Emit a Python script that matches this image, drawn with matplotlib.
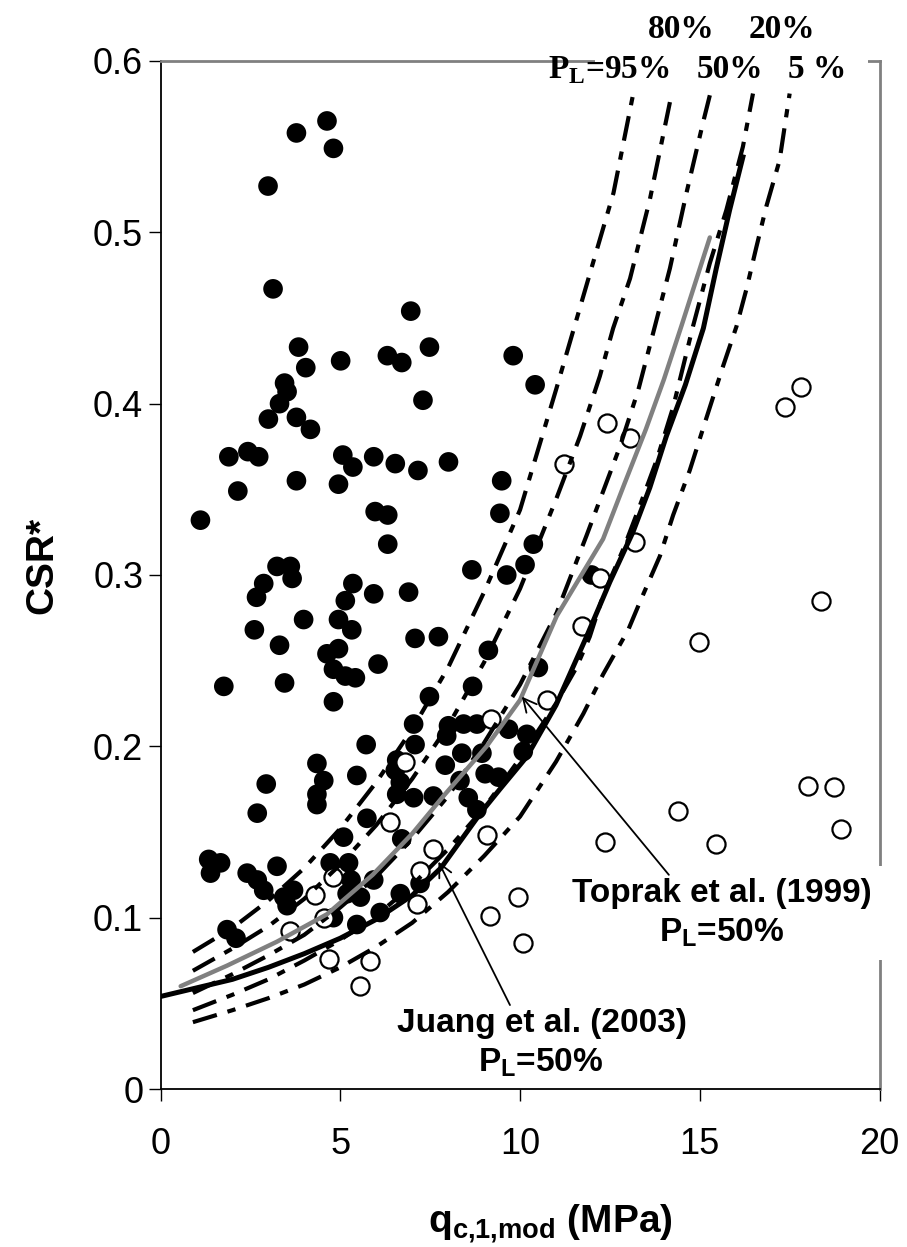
import matplotlib
matplotlib.use("Agg")
import matplotlib.pyplot as plt
from matplotlib.patches import Rectangle

plt.rcParams['font.family'] = ['Liberation Sans', 'DejaVu Sans']
plt.rcParams['lines.scale_dashes'] = False

# --- probability curves (this study), P_L = 95, 80, 50, 20, 5 % ---
pl95_x = [0.9, 2, 3, 4, 5, 6, 7, 8, 9, 10, 11, 12, 12.6, 13.15]
pl95_y = [0.080, 0.094, 0.110, 0.129, 0.152, 0.179, 0.210, 0.246, 0.290, 0.338, 0.408, 0.480, 0.523, 0.581]

pl80_x = [0.9, 2, 3, 4, 5, 6, 7, 8, 9, 10, 11, 11.67, 12.22, 12.59, 13.06, 13.61, 14.17]
pl80_y = [0.069, 0.082, 0.095, 0.111, 0.131, 0.154, 0.181, 0.212, 0.249, 0.292, 0.344, 0.381, 0.416, 0.444, 0.473, 0.519, 0.576]

pl50_x = [0.9, 2, 3, 4, 5, 6, 7, 8, 9, 10, 11.02, 11.85, 12.78, 13.29, 13.7, 14.17, 14.63, 15.09, 15.28]
pl50_y = [0.056, 0.067, 0.078, 0.090, 0.106, 0.124, 0.146, 0.171, 0.202, 0.236, 0.278, 0.323, 0.375, 0.408, 0.441, 0.479, 0.523, 0.564, 0.580]

pl20_x = [0.9, 2, 3, 4, 5, 6, 7, 8, 9, 10, 11, 11.57, 11.94, 12.31, 12.87, 13.29, 13.8, 14.26, 14.81, 15.28, 15.74, 16.2, 16.48]
pl20_y = [0.046, 0.055, 0.064, 0.075, 0.087, 0.101, 0.119, 0.140, 0.164, 0.193, 0.225, 0.246, 0.264, 0.288, 0.315, 0.338, 0.367, 0.398, 0.445, 0.482, 0.513, 0.550, 0.581]

pl05_x = [0.9, 2, 3, 4, 5, 6, 7, 8, 9, 10, 11, 11.76, 12.31, 13.01, 13.33, 13.89, 14.26, 14.72, 15.19, 15.65, 16.02, 16.3, 16.57, 16.85, 17.22, 17.5]
pl05_y = [0.039, 0.046, 0.053, 0.061, 0.071, 0.083, 0.097, 0.115, 0.136, 0.159, 0.191, 0.219, 0.242, 0.268, 0.284, 0.311, 0.335, 0.361, 0.392, 0.422, 0.445, 0.467, 0.491, 0.515, 0.542, 0.581]

# --- Juang et al. (2003), P_L = 50% ---
juang_x = [0, 1, 2, 3, 4, 5, 6, 7, 7.8, 8.9, 9.44, 10.19, 11.0, 11.85, 12.5, 13.14, 13.61, 14.07, 14.6, 15.1, 15.46, 15.83, 16.2]
juang_y = [0.054, 0.059, 0.064, 0.071, 0.079, 0.088, 0.099, 0.113, 0.129, 0.161, 0.175, 0.194, 0.224, 0.264, 0.296, 0.325, 0.351, 0.381, 0.411, 0.444, 0.479, 0.513, 0.544]

# --- Toprak et al. (1999), P_L = 50% ---
toprak_x = [0.56, 1.85, 3.24, 4.63, 5.9, 7.0, 7.87, 9.07, 10.0, 11.02, 12.31, 12.9, 13.5, 14.0, 14.5, 15.28]
toprak_y = [0.060, 0.072, 0.086, 0.102, 0.125, 0.149, 0.171, 0.200, 0.227, 0.276, 0.321, 0.353, 0.385, 0.414, 0.446, 0.497]

# --- case histories ---
liq_x = [4.63, 3.78, 4.81, 2.99, 3.13, 6.96, 3.84, 7.48, 5.01, 6.31, 6.71, 4.04, 3.45, 3.52, 3.31, 7.30,
         3.00, 3.78, 4.17, 1.90, 2.43, 2.73, 5.07, 5.93, 6.53, 8.01, 2.15, 3.78, 5.35, 4.95, 7.16, 1.11,
         5.97, 6.32, 6.32, 8.66, 3.24, 3.61, 3.66, 2.87, 2.67, 5.35, 5.14, 5.93, 6.90, 4.95, 3.98, 5.32,
         2.61, 3.31, 7.08, 7.73, 4.63, 4.95, 4.81, 5.14, 5.42, 6.05, 1.76, 3.45, 4.81, 8.68, 7.48, 7.04,
         7.08, 5.72, 4.35, 5.46, 2.94, 4.54, 4.35, 6.57, 7.92, 8.33, 7.59, 9.81, 10.42, 9.49, 9.44, 10.37,
         9.63, 10.14, 11.99, 9.12, 10.51, 8.01, 8.43, 8.80, 7.96, 9.68, 10.19, 10.09, 8.38, 8.94, 6.53, 6.67,
         9.03, 9.40, 4.35, 6.57, 7.04, 8.56, 8.80, 5.74, 5.09, 6.71, 4.72, 5.23, 1.34, 1.67, 1.39, 2.41,
         2.69, 2.87, 3.24, 3.70, 3.52, 3.43, 2.69, 1.85, 2.10, 5.19, 5.56, 5.93, 6.67, 7.22, 5.46, 6.11,
         4.81, 5.30]
liq_y = [0.565, 0.558, 0.549, 0.527, 0.467, 0.454, 0.433, 0.433, 0.425, 0.428, 0.424, 0.421, 0.412, 0.407, 0.400, 0.402,
         0.391, 0.392, 0.385, 0.369, 0.372, 0.369, 0.370, 0.369, 0.365, 0.366, 0.349, 0.355, 0.363, 0.353, 0.361, 0.332,
         0.337, 0.335, 0.318, 0.303, 0.305, 0.305, 0.298, 0.295, 0.287, 0.295, 0.285, 0.289, 0.290, 0.274, 0.274, 0.268,
         0.268, 0.259, 0.263, 0.264, 0.254, 0.257, 0.245, 0.241, 0.240, 0.248, 0.235, 0.237, 0.226, 0.235, 0.229, 0.213,
         0.201, 0.201, 0.190, 0.183, 0.178, 0.180, 0.172, 0.192, 0.189, 0.180, 0.171, 0.428, 0.411, 0.355, 0.336, 0.318,
         0.300, 0.306, 0.300, 0.256, 0.246, 0.212, 0.213, 0.213, 0.206, 0.210, 0.207, 0.197, 0.196, 0.196, 0.186, 0.179,
         0.184, 0.182, 0.166, 0.172, 0.170, 0.170, 0.163, 0.158, 0.147, 0.146, 0.132, 0.132, 0.134, 0.132, 0.126, 0.126,
         0.122, 0.116, 0.130, 0.116, 0.107, 0.112, 0.161, 0.093, 0.088, 0.114, 0.112, 0.122, 0.114, 0.120, 0.096, 0.103,
         0.100, 0.122]

nonliq_x = [17.82, 17.36, 12.41, 13.07, 11.22, 13.19, 12.22, 18.36, 14.98, 11.71, 10.74, 6.81, 6.39, 9.07, 7.59, 7.22,
            4.81, 7.13, 4.31, 4.54, 3.61, 4.68, 5.83, 5.56, 9.95, 9.17, 10.09, 12.36, 14.4, 15.46, 18.0, 18.72,
            18.94, 9.2]
nonliq_y = [0.410, 0.398, 0.389, 0.380, 0.365, 0.319, 0.298, 0.285, 0.261, 0.270, 0.227, 0.191, 0.156, 0.148, 0.140, 0.127,
            0.124, 0.108, 0.113, 0.100, 0.092, 0.076, 0.075, 0.060, 0.112, 0.101, 0.085, 0.144, 0.162, 0.143, 0.177, 0.176,
            0.152, 0.216]

x_ticks = [0, 5, 10, 15, 20]
y_ticks = [0, 0.1, 0.2, 0.3, 0.4, 0.5, 0.6]
y_tick_labels = ['0', '0.1', '0.2', '0.3', '0.4', '0.5', '0.6']

fig = plt.figure(figsize=(9.07, 12.47), dpi=100)
ax = fig.add_axes([0.177, 0.1267, 0.7927, 0.8244])

ax.scatter(liq_x, liq_y, s=200, c='black', edgecolors='none', zorder=2)
ax.scatter(nonliq_x, nonliq_y, s=170, facecolors='white', edgecolors='black', linewidths=1.6, zorder=2)

dash_dot = (18, 8, 6, 8)
for xs, ys in [(pl95_x, pl95_y), (pl80_x, pl80_y), (pl50_x, pl50_y), (pl20_x, pl20_y), (pl05_x, pl05_y)]:
    ax.plot(xs, ys, color='black', lw=3, dashes=dash_dot, dash_capstyle='butt', zorder=3)

ax.plot(toprak_x, toprak_y, color='#808080', lw=3.2, solid_capstyle='round', zorder=4)
ax.plot(juang_x, juang_y, color='black', lw=3.6, zorder=4)

ax.set_xlim(0, 20)
ax.set_ylim(0, 0.6)
ax.set_xticks(x_ticks)
ax.set_xticklabels([str(t) for t in x_ticks])
ax.set_yticks(y_ticks)
ax.set_yticklabels(y_tick_labels)
ax.tick_params(axis='both', direction='out', length=8.5, width=1, labelsize=26)
ax.tick_params(axis='x', pad=19)
ax.tick_params(axis='y', pad=4)

for side in ['left', 'bottom']:
    ax.spines[side].set_color('black')
    ax.spines[side].set_linewidth(1.3)
for side in ['top', 'right']:
    ax.spines[side].set_color('#808080')
    ax.spines[side].set_linewidth(2)

# white boxes behind the labels that break the frame
ax.add_artist(Rectangle((0.656, 0.9294), 0.301, 0.0369, transform=fig.transFigure,
                        facecolor='white', edgecolor='none', clip_on=False, zorder=2.6))
ax.add_artist(Rectangle((0.623, 0.2302), 0.369, 0.0754, transform=fig.transFigure,
                        facecolor='white', edgecolor='none', clip_on=False, zorder=2.6))

# probability labels at the top
serif = ['Liberation Serif', 'DejaVu Serif']
top_kw = dict(transform=fig.transFigure, family=serif, fontsize=24, fontweight='bold',
              va='baseline', zorder=6)
ax.text(0.7508, 0.9695, '80%', ha='center', **top_kw)
ax.text(0.862, 0.9695, '20%', ha='center', **top_kw)
ax.text(0.7385, 0.9375, r'P$_\mathregular{L}$=95%', ha='right', **top_kw)
ax.text(0.8049, 0.9375, '50%', ha='center', **top_kw)
ax.text(0.9008, 0.9375, '5 %', ha='center', **top_kw)

# curve labels and arrows
lab_kw = dict(fontsize=24, fontweight='bold', ha='center', va='baseline', zorder=6)
ax.text(15.61, 0.1093, 'Toprak et al. (1999)', **lab_kw)
ax.text(15.61, 0.0860, r'P$_\mathregular{L}$=50%', **lab_kw)
ax.text(10.60, 0.0335, 'Juang et al. (2003)', **lab_kw)
ax.text(10.58, 0.0101, r'P$_\mathregular{L}$=50%', **lab_kw)

arrow = dict(arrowstyle='->', mutation_scale=24, color='black', lw=1.3, shrinkA=0, shrinkB=0)
ax.annotate('', xy=(10.05, 0.229), xytext=(14.14, 0.125), arrowprops=arrow, zorder=5)
ax.annotate('', xy=(7.73, 0.1327), xytext=(9.72, 0.049), arrowprops=arrow, zorder=5)

fig.text(42 / 907, 1 - 565 / 1247, 'CSR*', rotation=90, fontsize=28, fontweight='bold',
         ha='center', va='center')
fig.text(550 / 907, 1 - 1233 / 1247, r'q$_\mathregular{c{,}1{,}mod}$ (MPa)', fontsize=28,
         fontweight='bold', ha='center', va='baseline')

fig.savefig('out.png', dpi=100)
